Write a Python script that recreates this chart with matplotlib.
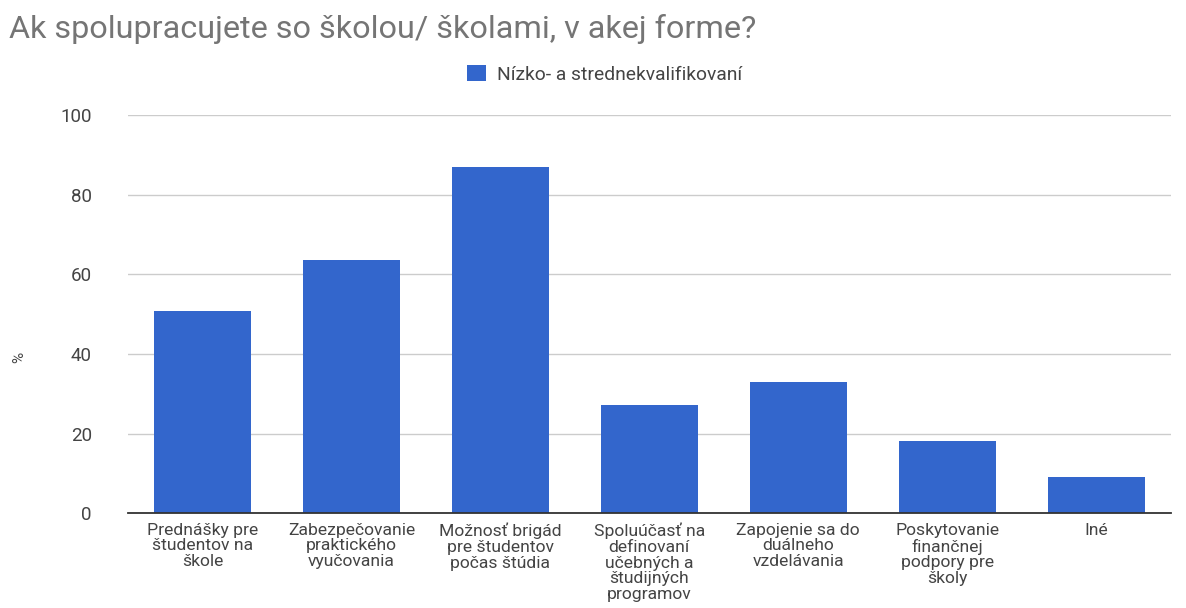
import matplotlib.pyplot as plt

plt.rcParams['font.family'] = ['Roboto', 'DejaVu Sans']

categories = [
    "Prednášky pre\nštudentov na\nškole",
    "Zabezpečovanie\npraktického\nvyučovania",
    "Možnosť brigád\npre študentov\npočas štúdia",
    "Spoluúčasť na\ndefinovaní\nučebných a\nštudijných\nprogramov",
    "Zapojenie sa do\nduálneho\nvzdelávania",
    "Poskytovanie\nfinančnej\npodpory pre\nškoly",
    "Iné",
]
values = [50.8, 63.6, 86.9, 27.1, 32.9, 18.1, 9.0]
series_name = "Nízko- a strednekvalifikovaní"
yticks = [0, 20, 40, 60, 80, 100]

bar_color = "#3366cc"
text_color = "#444444"

fig = plt.figure(figsize=(11.86, 6.08), dpi=100)
ax = fig.add_axes([0.108, 0.156, 0.879, 0.655])

x = range(len(categories))
ax.bar(x, values, width=0.65, color=bar_color, label=series_name, zorder=3)

ax.set_xlim(-0.5, len(categories) - 0.5)
ax.set_ylim(0, 100)
ax.set_yticks(yticks)
ax.set_xticks(list(x))
ax.set_xticklabels(categories, fontsize=12.6, color=text_color,
                   linespacing=1.05, va='top')
ax.tick_params(axis='x', length=0, pad=7)
ax.tick_params(axis='y', length=0, pad=26, labelsize=13.5, labelcolor=text_color)

ax.grid(axis='y', color='#cccccc', linewidth=1, zorder=0)
for side in ['top', 'right', 'left']:
    ax.spines[side].set_visible(False)
ax.spines['bottom'].set_color('#333333')
ax.spines['bottom'].set_linewidth(1.3)
ax.spines['bottom'].set_zorder(4)

# axis title sits a bit below the vertical centre of the plot
fig.text(0.016, 0.412, "%", fontsize=11, color=text_color,
         rotation=90, ha='center', va='center')

fig.text(0.008, 0.953, "Ak spolupracujete so školou/ školami, v akej forme?",
         fontsize=23.3, color='#757575', va='center', ha='left')

fig.legend(loc='center', bbox_to_anchor=(0.51, 0.878), frameon=False,
           fontsize=13.9, labelcolor=text_color, handlelength=0.95,
           handleheight=0.95, handletextpad=0.6)

fig.savefig("out.png", dpi=100, facecolor='white')
